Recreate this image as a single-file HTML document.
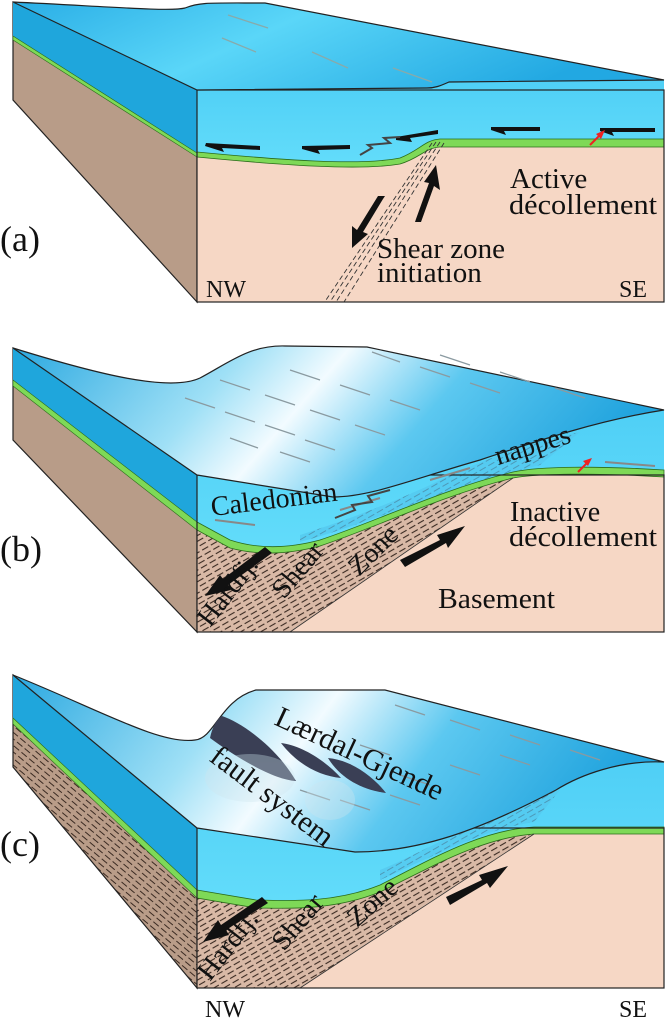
<!DOCTYPE html>
<html><head><meta charset="utf-8"><style>
html,body{margin:0;padding:0;background:#fff;}
svg{display:block;font-family:"Liberation Serif",serif;}
</style></head><body>
<svg width="668" height="1024" viewBox="0 0 668 1024" xmlns="http://www.w3.org/2000/svg">
<defs>
<linearGradient id="topA" x1="0" y1="0" x2="1" y2="0.3">
<stop offset="0" stop-color="#2aaee6"/><stop offset="0.45" stop-color="#5ad6f8"/><stop offset="1" stop-color="#22a8e2"/></linearGradient>
<linearGradient id="topB" x1="0" y1="0" x2="1" y2="0.2">
<stop offset="0" stop-color="#2aa8e0"/><stop offset="0.35" stop-color="#9fe0f6"/><stop offset="0.5" stop-color="#f2fbff"/><stop offset="0.7" stop-color="#5cc8f0"/><stop offset="1" stop-color="#22a4de"/></linearGradient>
<linearGradient id="front" x1="0" y1="0" x2="0" y2="1"><stop offset="0" stop-color="#4fcff6"/><stop offset="1" stop-color="#62dcfa"/></linearGradient>
<pattern id="hatch" width="10" height="5" patternUnits="userSpaceOnUse" patternTransform="rotate(-30)">
<rect width="10" height="5" fill="#d9b9a6"/><line x1="0" y1="2.5" x2="7" y2="2.5" stroke="#3a2a22" stroke-width="1.1"/></pattern>
<pattern id="hatch2" width="10" height="5" patternUnits="userSpaceOnUse" patternTransform="rotate(-30)">
<rect width="10" height="5" fill="#54c9ef"/><line x1="0" y1="2.5" x2="7" y2="2.5" stroke="#4a8aa8" stroke-width="1"/></pattern>
<pattern id="hatchL" width="10" height="5" patternUnits="userSpaceOnUse" patternTransform="rotate(40)">
<rect width="10" height="5" fill="#b99c88"/><line x1="0" y1="2.5" x2="7" y2="2.5" stroke="#3a2a22" stroke-width="1"/></pattern>
</defs>

<!-- ===== Panel A ===== -->
<polygon points="13,2 197,90 197,302 13,100" fill="#b89c88" stroke="#222" stroke-width="1.2"/>
<polygon points="13,2 197,90 197,153 13,36" fill="#1fa6dc"/>
<polygon points="13,36 197,153 197,157 13,40" fill="#7ed957" stroke="#2a6b1a" stroke-width="0.6"/>
<rect x="197" y="90" width="467" height="212" fill="#f6d7c5"/>
<path d="M197,90 L427,88 C435,88 440,86 449,82 L664,80 L664,139 L440,139 C425,140 420,150 400,158 C360,166 280,160 197,152 Z" fill="url(#front)"/>
<path d="M197,152 C280,160 360,166 400,158 C420,150 425,140 440,139 L664,139 L664,147 L440,147 C425,148 420,158 400,164 C360,171 280,165 197,157 Z" fill="#7ed957" stroke="#2a6b1a" stroke-width="0.8"/>
<rect x="197" y="90" width="467" height="212" fill="none" stroke="#222" stroke-width="1.2"/>
<path d="M13,2 C100,6 170,12 185,8 C200,2 210,3 265,3 L664,80 L449,82 C440,86 435,88 427,88 L197,90 Z" fill="url(#topA)" stroke="#222" stroke-width="1.2"/>
<g stroke="#8aa" stroke-width="1.3"><line x1="228" y1="15" x2="268" y2="28"/><line x1="222" y1="38" x2="256" y2="52"/><line x1="312" y1="52" x2="348" y2="68"/><line x1="393" y1="68" x2="432" y2="82"/></g>
<g stroke="#333" stroke-width="0.9" stroke-dasharray="5,3" fill="none">
<line x1="436" y1="142" x2="330" y2="302"/><line x1="440" y1="142" x2="336" y2="302"/><line x1="444" y1="143" x2="344" y2="302"/><line x1="432" y1="143" x2="326" y2="300"/></g>
<g fill="#111">
<polygon points="206,143 260,146 260,150 222,148 224,152 205,146"/>
<polygon points="302,146 350,145 350,149 318,150 320,154 302,149"/>
<polygon points="396,137 438,130 438,134 410,138 412,142 396,140"/>
<polygon points="491,127 540,127 540,131 504,131 506,135 491,130"/>
<polygon points="600,128 655,128 655,132 612,132 614,136 600,131"/>
<polygon points="385,196 378,196 357,230 352,226 352,248 368,234 363,232 383,199"/>
<polygon points="415,222 421,222 434,186 440,190 436,165 424,182 429,183 416,219"/>
</g>
<polyline points="360,155 372,148 368,145 390,143 384,138 400,137" fill="none" stroke="#444" stroke-width="2"/>
<line x1="590" y1="145" x2="602" y2="133" stroke="#e22" stroke-width="2"/><polygon points="605,130 596,134 601,139" fill="#e22"/>
<g font-size="29" fill="#111">
<text x="510" y="188">Active</text><text x="509" y="214" textLength="148" lengthAdjust="spacingAndGlyphs">décollement</text>
<text x="377" y="258" textLength="128" lengthAdjust="spacingAndGlyphs">Shear zone</text><text x="377" y="282">initiation</text>
<text x="206" y="297" font-size="24">NW</text><text x="619" y="297" font-size="24">SE</text>
<text x="0" y="251" font-size="36">(a)</text></g>

<!-- ===== Panel B ===== -->
<polygon points="13,348 197,475 197,632 13,440" fill="#b89c88" stroke="#222" stroke-width="1.2"/>
<polygon points="13,348 197,475 197,522 13,380" fill="#1fa6dc"/>
<polygon points="13,380 197,522 197,530 13,386" fill="#7ed957" stroke="#2a6b1a" stroke-width="0.6"/>
<rect x="197" y="475" width="467" height="157" fill="#f6d7c5"/>
<path d="M197,475 L333,497 C370,497 410,480 480,460 C540,440 600,420 664,410 L664,470 C600,466 540,466 513,472 C440,490 380,520 320,540 C290,548 260,550 230,540 L197,522 Z" fill="url(#front)"/>
<path d="M300,542 C380,520 440,490 513,472 L540,465 L580,432 C520,445 470,465 430,485 C380,508 340,522 300,535 Z" fill="url(#hatch2)" opacity="0.8"/>
<path d="M197,530 L230,548 C260,556 290,554 320,546 C380,526 440,496 513,478 L290,632 L197,632 Z" fill="url(#hatch)"/>
<path d="M197,522 L230,540 C260,550 290,548 320,540 C380,520 440,490 513,472 C540,466 600,466 664,470 L664,477 C600,473 540,473 513,478 C440,496 380,526 320,546 C290,554 260,556 230,548 L197,530 Z" fill="#7ed957" stroke="#2a6b1a" stroke-width="0.8"/>
<line x1="290" y1="632" x2="513" y2="478" stroke="#333" stroke-width="0.8"/>
<rect x="197" y="475" width="467" height="157" fill="none" stroke="#222" stroke-width="1.2"/>
<path d="M13,348 C100,375 170,392 200,378 C230,362 250,345 285,346 L367,347 L664,410 C600,420 540,440 480,460 C410,480 370,497 333,497 L197,475 Z" fill="url(#topB)" stroke="#222" stroke-width="1.2"/>
<g stroke="#8a9aa0" stroke-width="1.2">
<line x1="185" y1="398" x2="215" y2="408"/><line x1="225" y1="412" x2="255" y2="422"/><line x1="265" y1="425" x2="295" y2="435"/><line x1="305" y1="440" x2="335" y2="450"/>
<line x1="220" y1="380" x2="250" y2="390"/><line x1="265" y1="395" x2="295" y2="405"/><line x1="310" y1="410" x2="340" y2="420"/><line x1="355" y1="425" x2="385" y2="435"/>
<line x1="290" y1="370" x2="320" y2="380"/><line x1="340" y1="385" x2="370" y2="395"/><line x1="390" y1="400" x2="420" y2="410"/>
<line x1="372" y1="352" x2="400" y2="362"/><line x1="420" y1="367" x2="450" y2="377"/><line x1="470" y1="383" x2="500" y2="393"/>
<line x1="440" y1="355" x2="470" y2="365"/><line x1="500" y1="372" x2="530" y2="382"/><line x1="555" y1="388" x2="585" y2="398"/>
<line x1="230" y1="438" x2="258" y2="448"/><line x1="280" y1="452" x2="310" y2="462"/></g>
<g fill="#111">
<polygon points="265,547 272,553 228,585 231,590 205,596 220,575 223,579"/>
<polygon points="405,567 400,560 440,540 437,535 465,526 448,548 446,543"/></g>
<g stroke="#888" stroke-width="2"><line x1="215" y1="520" x2="255" y2="525"/><line x1="340" y1="510" x2="380" y2="498"/><line x1="430" y1="480" x2="470" y2="468"/><line x1="605" y1="462" x2="655" y2="466"/></g>
<polyline points="335,518 355,510 352,505 372,502 368,496 390,490" fill="none" stroke="#444" stroke-width="2"/>
<line x1="578" y1="472" x2="588" y2="462" stroke="#e22" stroke-width="2"/><polygon points="592,458 583,461 588,466" fill="#e22"/>
<g font-size="28" fill="#111">
<text transform="translate(212,516) rotate(-7)" textLength="127" lengthAdjust="spacingAndGlyphs">Caledonian</text>
<text transform="translate(498,465) rotate(-17)">nappes</text>
<text x="510" y="521">Inactive</text><text x="509" y="546" textLength="148" lengthAdjust="spacingAndGlyphs">décollement</text>
<text x="438" y="608" textLength="117" lengthAdjust="spacingAndGlyphs">Basement</text>
<text transform="translate(210,628) rotate(-52)">Hardfj.</text>
<text transform="translate(284,600) rotate(-50)">Shear</text>
<text transform="translate(359,577) rotate(-45)">Zone</text>
<text x="0" y="561" font-size="36">(b)</text></g>

<!-- ===== Panel C ===== -->
<polygon points="13,675 197,828 197,988 13,767" fill="url(#hatchL)" stroke="#222" stroke-width="1.2"/>
<polygon points="13,675 197,828 197,890 13,718" fill="#1fa6dc"/>
<polygon points="13,718 197,890 197,898 13,724" fill="#7ed957" stroke="#2a6b1a" stroke-width="0.6"/>
<rect x="197" y="828" width="467" height="160" fill="#f6d7c5"/>
<path d="M197,828 L355,852 C420,852 480,830 556,790 C580,775 620,760 664,762 L664,827 L534,827 C480,830 430,860 380,885 C330,905 280,900 256,900 L197,890 Z" fill="url(#front)"/>
<path d="M380,880 C430,858 480,830 534,822 L560,790 C500,805 440,845 380,870 Z" fill="url(#hatch2)" opacity="0.8"/>
<path d="M197,898 L256,908 C280,908 330,912 380,892 C430,868 480,838 534,834 L300,988 L197,988 Z" fill="url(#hatch)"/>
<path d="M197,890 L256,900 C280,900 330,905 380,885 C430,860 480,830 534,827 L664,827 L664,834 L534,834 C480,838 430,868 380,892 C330,912 280,908 256,908 L197,898 Z" fill="#7ed957" stroke="#2a6b1a" stroke-width="0.8"/>
<line x1="300" y1="988" x2="534" y2="834" stroke="#333" stroke-width="0.8"/>
<rect x="197" y="828" width="467" height="160" fill="none" stroke="#222" stroke-width="1.2"/>
<path d="M13,675 C100,710 160,745 195,740 C215,738 220,700 256,690 L385,690 L664,762 C620,760 580,775 556,790 C480,830 420,852 355,852 L197,828 Z" fill="url(#topB)" stroke="#222" stroke-width="1.2"/>
<g stroke="#8a9aa0" stroke-width="1.2">
<line x1="395" y1="705" x2="425" y2="715"/><line x1="450" y1="720" x2="480" y2="730"/><line x1="510" y1="735" x2="540" y2="745"/><line x1="570" y1="750" x2="600" y2="760"/>
<line x1="360" y1="745" x2="390" y2="755"/><line x1="450" y1="765" x2="480" y2="775"/><line x1="500" y1="755" x2="530" y2="765"/>
<line x1="340" y1="800" x2="370" y2="810"/><line x1="390" y1="795" x2="420" y2="805"/><line x1="300" y1="790" x2="330" y2="800"/>
<line x1="245" y1="745" x2="275" y2="755"/><line x1="400" y1="775" x2="430" y2="785"/></g>
<path d="M222,716 C240,722 275,745 296,781 C275,780 240,760 210,738 C212,728 216,720 222,716 Z" fill="#3a3f55"/>
<path d="M281,743 C300,745 325,760 341,778 C320,776 298,765 281,743 Z" fill="#3a3f55"/>
<path d="M328,758 C350,760 372,775 386,793 C362,790 340,778 328,758 Z" fill="#3a3f55"/>
<g fill="#cfe6ef" opacity="0.35"><ellipse cx="250" cy="778" rx="45" ry="24"/><ellipse cx="330" cy="800" rx="25" ry="20"/></g>
<g fill="#111">
<polygon points="262,897 268,903 226,930 229,935 203,942 218,920 221,925"/>
<polygon points="450,905 446,897 482,880 479,875 508,866 490,888 487,883"/></g>
<g font-size="28" fill="#111">
<text transform="translate(273,724) rotate(25)" font-size="30" textLength="182" lengthAdjust="spacingAndGlyphs">Lærdal-Gjende</text>
<text transform="translate(208,760) rotate(37)" font-size="30" textLength="146" lengthAdjust="spacingAndGlyphs">fault system</text>
<text transform="translate(210,982) rotate(-52)">Hardfj.</text>
<text transform="translate(284,952) rotate(-50)">Shear</text>
<text transform="translate(357,928) rotate(-42)">Zone</text>
<text x="205" y="1017" font-size="24">NW</text><text x="619" y="1017" font-size="24">SE</text>
<text x="0" y="856" font-size="36">(c)</text></g>
</svg>
</body></html>
